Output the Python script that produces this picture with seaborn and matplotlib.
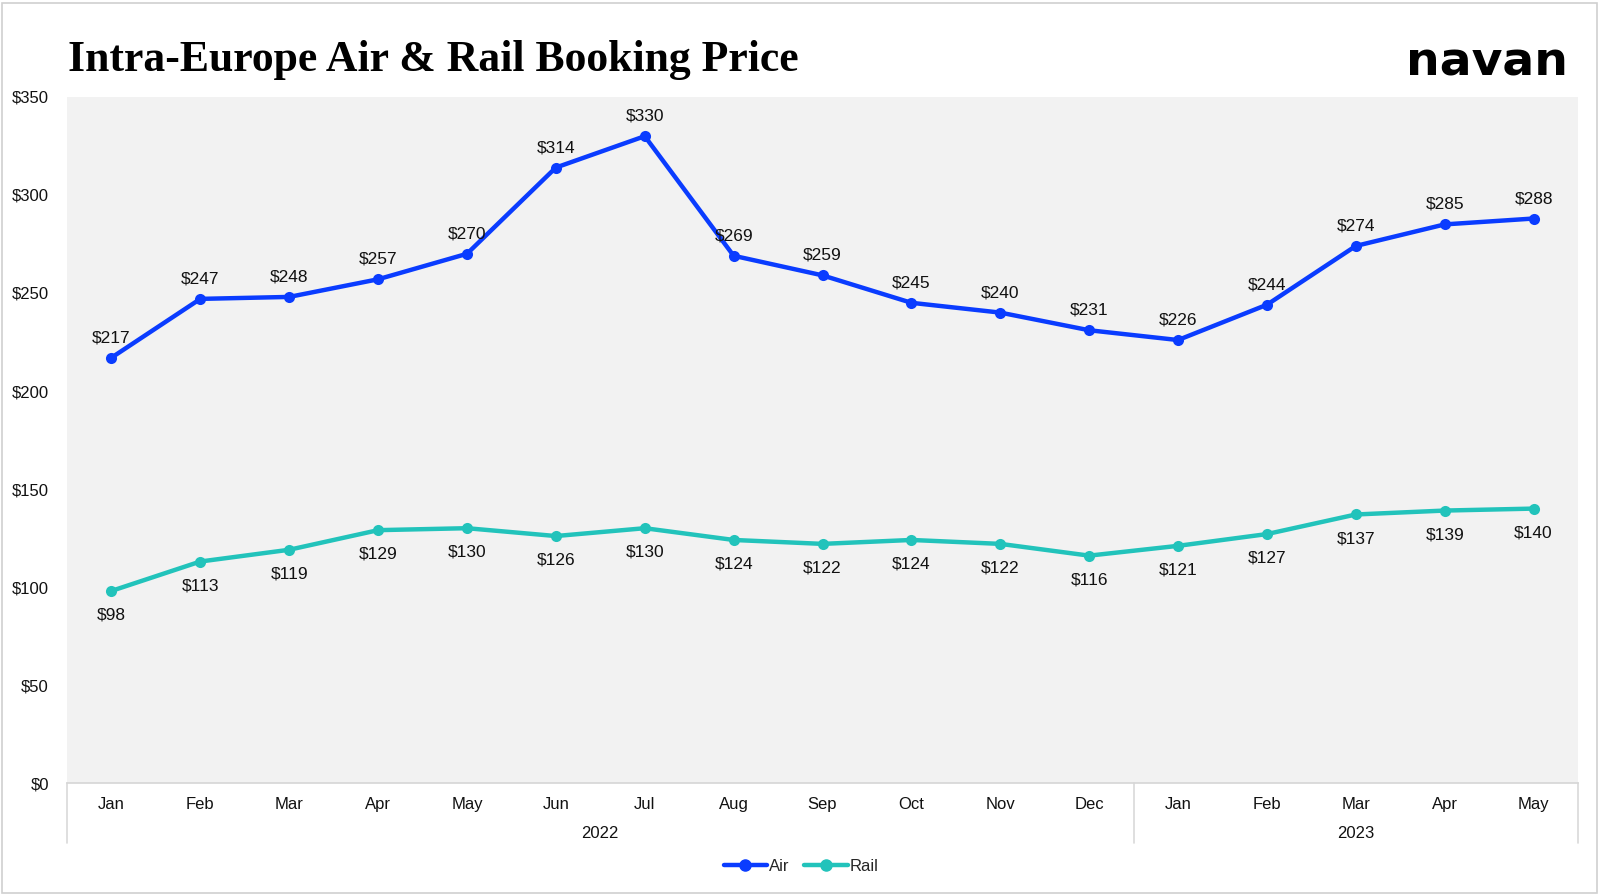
import matplotlib
matplotlib.use("Agg")
import matplotlib.pyplot as plt
import matplotlib.transforms as mtransforms
from matplotlib.lines import Line2D
from matplotlib.patches import Rectangle
import seaborn as sns
import pandas as pd
import numpy as np

months = ["Jan", "Feb", "Mar", "Apr", "May", "Jun", "Jul", "Aug", "Sep", "Oct", "Nov", "Dec",
          "Jan", "Feb", "Mar", "Apr", "May"]
years = ["2022", "2023"]
year_counts = [12, 5]
air = [217, 247, 248, 257, 270, 314, 330, 269, 259, 245, 240, 231, 226, 244, 274, 285, 288]
rail = [98, 113, 119, 129, 130, 126, 130, 124, 122, 124, 122, 116, 121, 127, 137, 139, 140]
y_ticks = [0, 50, 100, 150, 200, 250, 300, 350]

AIR_C = "#0a3cff"
RAIL_C = "#22c3bb"

sns.set_theme(style="white")
plt.rcParams["font.family"] = ["Liberation Sans", "DejaVu Sans"]

fig = plt.figure(figsize=(16, 8.96), dpi=100)
ax = fig.add_axes([67 / 1600, 1 - 783 / 896, (1578 - 67) / 1600, (783 - 97) / 896])
ax.set_facecolor("#f2f2f2")

df = pd.DataFrame({"idx": np.arange(len(months)), "Air": air, "Rail": rail})
sns.lineplot(data=df, x="idx", y="Air", ax=ax, color=AIR_C, lw=3.2, marker="o",
             markersize=8, markeredgewidth=0)
sns.lineplot(data=df, x="idx", y="Rail", ax=ax, color=RAIL_C, lw=3.2, marker="o",
             markersize=8, markeredgewidth=0)

for i, v in enumerate(air):
    ax.annotate(f"${v}", (i, v), xytext=(0, 9), textcoords="offset points",
                ha="center", va="bottom", fontsize=12.5, color="#111111")
for i, v in enumerate(rail):
    ax.annotate(f"${v}", (i, v), xytext=(0, -12), textcoords="offset points",
                ha="center", va="top", fontsize=12.5, color="#111111")

ax.set_xlim(-0.5, len(months) - 0.5)
ax.set_ylim(0, 350)
ax.set_yticks(y_ticks)
ax.set_yticklabels([f"${t}" for t in y_ticks], fontsize=12, color="#111111")
ax.set_xticks(np.arange(len(months)))
ax.set_xticklabels(months, fontsize=12, color="#111111")
ax.tick_params(axis="both", length=0)
ax.tick_params(axis="x", pad=10)
ax.tick_params(axis="y", pad=13)
ax.set_xlabel("")
ax.set_ylabel("")
for s in ["top", "right", "left"]:
    ax.spines[s].set_visible(False)
ax.spines["bottom"].set_color("#d6d6d6")
ax.spines["bottom"].set_linewidth(1.2)

trans = mtransforms.blended_transform_factory(ax.transData, ax.transAxes)
start = -0.5
bounds = [start]
for cnt in year_counts:
    bounds.append(bounds[-1] + cnt)
for b in bounds:
    ax.plot([b, b], [0, -0.088], transform=trans, color="#d9d9d9", lw=1.2, clip_on=False)
for y, a, b in zip(years, bounds[:-1], bounds[1:]):
    ax.text((a + b) / 2, -0.073, y, transform=trans, ha="center", va="center",
            fontsize=12, color="#111111")

handles = [Line2D([0], [0], color=AIR_C, lw=3.2, marker="o", markersize=8),
           Line2D([0], [0], color=RAIL_C, lw=3.2, marker="o", markersize=8)]
fig.legend(handles, ["Air", "Rail"], loc="center", bbox_to_anchor=(801 / 1600, 1 - 866 / 896),
           ncol=2, frameon=False, fontsize=12, handlelength=2.6, handletextpad=0.1,
           columnspacing=0.9)

fig.text(68 / 1600, 1 - 60 / 896, "Intra-Europe Air & Rail Booking Price",
         fontsize=31.5, fontweight="bold", family=["Liberation Serif", "DejaVu Serif"],
         ha="left", va="center", color="#000000")
fig.text(1568 / 1600, 1 - 63 / 896, "navan", fontsize=34, fontweight="bold",
         family=["DejaVu Sans"], ha="right", va="center", color="#000000")

fig.patches.append(Rectangle((2 / 1600, 3 / 896), 1595 / 1600, 890 / 896,
                             transform=fig.transFigure, fill=False,
                             edgecolor="#d0d0d0", lw=1.2))

fig.savefig("out.png", dpi=100, facecolor="white")
